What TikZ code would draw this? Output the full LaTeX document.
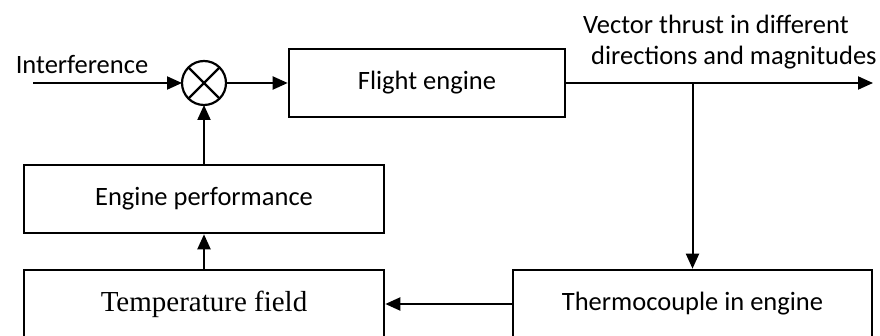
\documentclass[tikz,border=0pt]{standalone}
\usepackage{fontspec}
\setmainfont{Liberation Serif}
\newfontfamily\calib{Carlito}
\usetikzlibrary{arrows.meta}

\begin{document}
\begin{tikzpicture}[x=1pt, y=-1pt,
  box/.style={draw, line width=2.6pt, minimum height=68pt, inner sep=0pt,
    font=\calib\fontsize{26.5}{30}\selectfont},
  link/.style={line width=2pt, -{Triangle[length=15pt, width=13pt]}},
  lbl/.style={font=\calib\fontsize{26.5}{31}\selectfont, inner sep=0pt}]
  \useasboundingbox (0,0) rectangle (880,336);
  \clip (0,0) rectangle (880,336);

  % blocks
  \node[box, minimum width=276pt] (flight) at (427,83) {Flight engine};
  \node[draw, circle, line width=2.2pt, minimum size=44pt, inner sep=0pt, outer sep=0pt] (sum) at (204,83) {};
  \draw[line width=2.2pt] (sum.north east) -- (sum.south west)
                          (sum.north west) -- (sum.south east);
  \node[box, minimum width=360pt] (perf) at (204,199) {Engine performance};
  \node[box, minimum width=360pt, font=\fontsize{29}{32}\selectfont] (temp) at (204,304) {Temperature field};
  \node[box, minimum width=359pt] (thermo) at (692.5,304) {Thermocouple in engine};

  % labels
  \node[lbl, anchor=base] (interf) at (82,74) {Interference};
  \node[lbl, anchor=base west, align=left] (thrust) at (583,65)
    {Vector thrust in different\\\hspace*{8pt}directions and magnitudes};

  % free ends
  \coordinate (in) at (33,83);
  \coordinate (out) at (873,83);
  \coordinate (tap) at (thermo.north |- flight.east);

  % signal flow
  \draw[link] (in) -- (sum.west);
  \draw[link] (sum.east) -- (flight.west);
  \draw[link] (flight.east) -- (out);
  \draw[link] (tap) -- (thermo.north);
  \draw[link] (thermo.west) -- (temp.east);
  \draw[link] (temp.north) -- (perf.south);
  \draw[link] (perf.north) -- (sum.south);
\end{tikzpicture}
\end{document}
